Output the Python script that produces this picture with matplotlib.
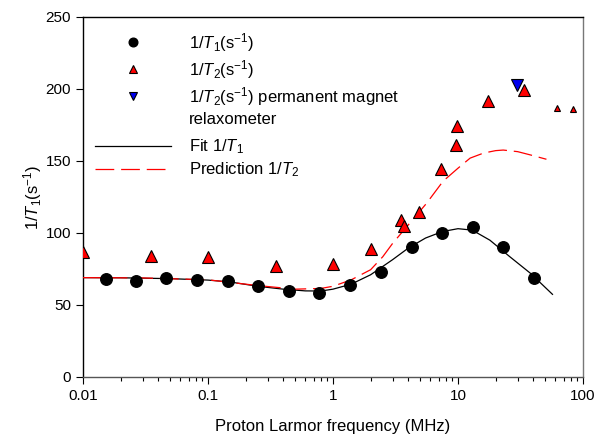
import matplotlib
matplotlib.use("Agg")
import matplotlib.pyplot as plt
from matplotlib.lines import Line2D
from matplotlib.ticker import LogLocator, FixedLocator, NullFormatter

plt.rcParams['font.family'] = ['Liberation Sans', 'DejaVu Sans']
plt.rcParams['mathtext.fontset'] = 'custom'
plt.rcParams['mathtext.rm'] = 'Liberation Sans'
plt.rcParams['mathtext.it'] = 'Liberation Sans:italic'

# measured 1/T1 (s^-1)
t1_freq = [0.0152, 0.0264, 0.0461, 0.0812, 0.144, 0.2525, 0.445, 0.777,
           1.37, 2.42, 4.26, 7.41, 13.1, 23.0, 40.6]
t1_rate = [68.1, 66.9, 68.5, 67.6, 66.7, 63.2, 59.9, 58.5,
           63.7, 72.7, 90.5, 100.2, 104.2, 90.5, 68.5]

# measured 1/T2 (s^-1)
t2_freq = [0.01, 0.035, 0.1006, 0.352, 1.006, 2.01, 3.52, 3.73, 4.88,
           7.27, 9.58, 9.87, 17.4, 33.9]
t2_rate = [87.0, 84.2, 83.1, 76.9, 78.3, 88.9, 108.8, 105.2, 114.4,
           144.4, 161.1, 174.3, 191.7, 199.3]
t2_edge_freq = [61.6, 83.6]
t2_edge_rate = [186.6, 185.9]

# permanent magnet relaxometer
pm_freq = [29.5]
pm_rate = [203.0]

# fit 1/T1
fit_freq = [0.01, 0.02, 0.05, 0.1, 0.15, 0.25, 0.4, 0.6, 0.8, 1.0, 1.4, 2.0,
            3.0, 4.0, 5.5, 7.5, 10, 13, 18, 26, 38, 57]
fit_rate = [69, 68.9, 68.3, 67.3, 66, 63, 61, 59.8, 59.7, 61, 64.5, 71,
            81.5, 89.5, 96.5, 101, 103, 102, 95, 83.5, 72, 57.4]

# prediction 1/T2
pred_freq = [0.01, 0.03, 0.1, 0.25, 0.5, 0.8, 1.0, 1.4, 2.0, 2.5, 3.0, 4.1,
             5.6, 7.6, 10, 12.5, 16, 20, 23, 30, 38, 51]
pred_rate = [69, 68.8, 67.5, 63.5, 61, 61.5, 63, 67.5, 74.5, 83.5, 92.8, 106.7,
             120.6, 136, 145, 152, 155.5, 157.2, 157.6, 156.5, 154.2, 151.2]

fig = plt.figure(figsize=(5.98, 4.34), dpi=100)
ax = fig.add_axes([83 / 598, 1 - 377 / 434, 500 / 598, 360 / 434])

h1, = ax.plot(t1_freq, t1_rate, 'o', color='black', ms=8.3, zorder=4)
h2, = ax.plot(t2_freq, t2_rate, '^', color='red', mec='black', mew=0.8, ms=8.3, zorder=4)
ax.plot(t2_edge_freq, t2_edge_rate, '^', color='red', mec='black', mew=0.8, ms=5, zorder=4)
h3, = ax.plot(pm_freq, pm_rate, 'v', color='#0000ee', mec='black', mew=0.8, ms=8.3, zorder=4)
h4, = ax.plot(fit_freq, fit_rate, '-', color='black', lw=0.9, zorder=3)
h5, = ax.plot(pred_freq, pred_rate, color='red', lw=0.9, ls=(0, (15, 5.5)), zorder=3)
blank = Line2D([], [], linestyle='none')

ax.set_xscale('log')
ax.set_xlim(0.01, 100)
ax.set_ylim(0, 250)
ax.xaxis.set_major_locator(FixedLocator([0.01, 0.1, 1, 10, 100]))
ax.set_xticklabels(['0.01', '0.1', '1', '10', '100'])
ax.xaxis.set_minor_locator(LogLocator(base=10, subs=range(2, 10)))
ax.xaxis.set_minor_formatter(NullFormatter())
ax.set_yticks([0, 50, 100, 150, 200, 250])

ax.tick_params(which='major', direction='out', length=5, width=0.8,
               labelsize=11, top=False, right=False)
ax.tick_params(which='minor', direction='out', length=3, width=0.8,
               top=False, right=False)
for s in ax.spines.values():
    s.set_linewidth(1.0)
ax.spines['right'].set_color('#777777')
ax.spines['bottom'].set_color('#555555')

ax.set_xlabel('Proton Larmor frequency (MHz)', fontsize=12, labelpad=12)
ax.set_ylabel(r'1/$T_1$(s$^{-1}$)', fontsize=12, labelpad=1)

leg_style = dict(frameon=False, fontsize=12, markerscale=0.75,
                 handlelength=4.6, handletextpad=1.05, labelspacing=0.24,
                 borderaxespad=0.3, borderpad=0.4)
leg1 = ax.legend([h1, h2, h3, blank],
                 [r'1/$T_1$(s$^{-1}$)', r'1/$T_2$(s$^{-1}$)',
                  r'1/$T_2$(s$^{-1}$) permanent magnet', 'relaxometer'],
                 loc='upper left', bbox_to_anchor=(0.0, 0.994), **leg_style)
ax.add_artist(leg1)
ax.legend([h4, h5], [r'Fit 1/$T_1$', r'Prediction 1/$T_2$'],
          loc='center left', bbox_to_anchor=(0.0, 0.607), **leg_style)

fig.savefig('out.png', dpi=100)
